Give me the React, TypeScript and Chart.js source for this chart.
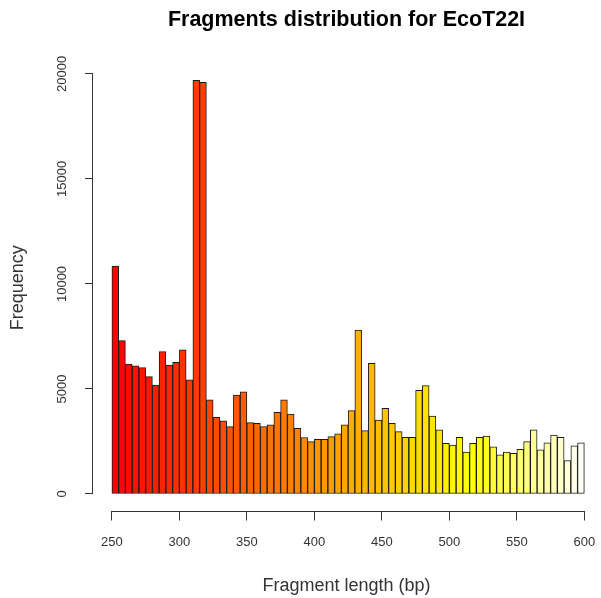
import React, { useEffect, useRef } from 'react';
import { Chart, registerables } from 'chart.js';

Chart.register(...registerables);

const FONT = "'Liberation Sans', Arial, Helvetica, sans-serif";

// Histogram bins (left edge, bp), width 5
const binStarts = [
  250, 255, 260, 265, 270, 275, 280, 285, 290, 295,
  300, 305, 310, 315, 320, 325, 330, 335, 340, 345,
  350, 355, 360, 365, 370, 375, 380, 385, 390, 395,
  400, 405, 410, 415, 420, 425, 430, 435, 440, 445,
  450, 455, 460, 465, 470, 475, 480, 485, 490, 495,
  500, 505, 510, 515, 520, 525, 530, 535, 540, 545,
  550, 555, 560, 565, 570, 575, 580, 585, 590, 595,
];
const binWidth = 5;

const frequencies = [
  10850, 7300, 6180, 6100, 6020, 5590, 5190, 6780, 6140, 6270,
  6860, 5430, 19700, 19600, 4480, 3650, 3480, 3210, 4710, 4870,
  3400, 3370, 3210, 3290, 3890, 4480, 3810, 3130, 2690, 2490,
  2600, 2600, 2730, 2860, 3290, 3970, 7810, 3020, 6220, 3520,
  4080, 3370, 2970, 2700, 2700, 4930, 5160, 3710, 3050, 2410,
  2330, 2700, 1990, 2410, 2700, 2760, 2250, 1860, 2000, 1940,
  2130, 2490, 3050, 2100, 2440, 2810, 2700, 1590, 2290, 2440,
];

const xTicks = [250, 300, 350, 400, 450, 500, 550, 600];
const yTicks = [0, 5000, 10000, 15000, 20000];

const titleText = 'Fragments distribution for EcoT22I';
const xTitle = 'Fragment length (bp)';
const yTitle = 'Frequency';

// R's heat.colors(n)
function heatColors(n: number): string[] {
  const j = Math.floor(n / 4);
  const i = n - j;
  const out: string[] = [];
  for (let k = 0; k < i; k++) {
    const g = i > 1 ? k / (i - 1) : 0;
    out.push(`rgb(255,${Math.round(255 * g)},0)`);
  }
  const s0 = 1 - 1 / (2 * j);
  const s1 = 1 / (2 * j);
  for (let k = 0; k < j; k++) {
    const s = j > 1 ? s0 + ((s1 - s0) * k) / (j - 1) : s0;
    out.push(`rgb(255,255,${Math.round(255 * (1 - s))})`);
  }
  return out;
}

const rAxesPlugin = {
  id: 'rAxes',
  afterDraw(chart: any) {
    const { ctx, chartArea, scales } = chart;
    const x = scales.x;
    const y = scales.y;
    ctx.save();
    ctx.strokeStyle = '#333';
    ctx.lineWidth = 1;
    const yb = Math.round(chartArea.bottom) + 0.5;
    ctx.beginPath();
    ctx.moveTo(x.getPixelForValue(xTicks[0]), yb);
    ctx.lineTo(x.getPixelForValue(xTicks[xTicks.length - 1]), yb);
    ctx.stroke();
    const xl = Math.round(chartArea.left) - 0.5;
    ctx.beginPath();
    ctx.moveTo(xl, y.getPixelForValue(yTicks[0]));
    ctx.lineTo(xl, y.getPixelForValue(yTicks[yTicks.length - 1]));
    ctx.stroke();
    ctx.fillStyle = '#333';
    ctx.font = `13px ${FONT}`;
    ctx.textAlign = 'center';
    ctx.textBaseline = 'middle';
    y.ticks.forEach((t: any) => {
      const py = y.getPixelForValue(t.value);
      ctx.save();
      ctx.translate(chartArea.left - 31, py);
      ctx.rotate(-Math.PI / 2);
      ctx.fillText(String(t.value), 0, 0);
      ctx.restore();
    });
    ctx.restore();
  },
};

export default function App() {
  const ref = useRef<HTMLCanvasElement>(null);
  useEffect(() => {
    document.body.style.margin = '0';
    const colors = heatColors(binStarts.length);
    const chart = new Chart(ref.current as HTMLCanvasElement, {
      type: 'bar',
      data: {
        datasets: [
          {
            data: binStarts.map((b, i) => ({ x: b + binWidth / 2, y: frequencies[i] })),
            backgroundColor: colors,
            borderColor: '#1a1a1a',
            borderWidth: 1,
            borderSkipped: false,
            barPercentage: 1,
            categoryPercentage: 1,
          } as any,
        ],
      },
      options: {
        animation: false,
        responsive: false,
        devicePixelRatio: 1,
        layout: { padding: { left: 0, right: 1, top: 0, bottom: 0 } },
        plugins: {
          legend: { display: false },
          tooltip: { enabled: false },
          title: {
            display: true,
            text: titleText,
            fullSize: false,
            color: '#000',
            font: { family: FONT, size: 21.5, weight: 'bold' },
            padding: { top: 7, bottom: 32 },
          },
        },
        scales: {
          x: {
            type: 'linear',
            min: 236,
            max: 611.6,
            offset: false,
            afterBuildTicks: (s: any) => {
              s.ticks = xTicks.map((v) => ({ value: v }));
            },
            afterFit: (s: any) => {
              s.height = 87.5;
              s.paddingLeft = 0;
              s.paddingRight = 0;
            },
            grid: {
              display: true,
              drawOnChartArea: false,
              drawTicks: true,
              tickLength: 10,
              color: '#333',
              offset: false,
            },
            border: { display: false },
            ticks: {
              padding: 14,
              color: '#333',
              font: { family: FONT, size: 13 },
              maxRotation: 0,
              autoSkip: false,
            },
            title: {
              display: true,
              text: xTitle,
              color: '#333',
              font: { family: FONT, size: 18 },
              padding: { top: 0, bottom: 1.5 },
            },
          },
          y: {
            type: 'linear',
            min: -786,
            max: 20436,
            afterBuildTicks: (s: any) => {
              s.ticks = yTicks.map((v) => ({ value: v }));
            },
            afterFit: (s: any) => {
              s.width = 93;
              s.paddingTop = 0;
              s.paddingBottom = 0;
            },
            grid: {
              display: true,
              drawOnChartArea: false,
              drawTicks: true,
              tickLength: 8,
              color: '#333',
            },
            border: { display: false },
            ticks: { display: false },
            title: {
              display: true,
              text: yTitle,
              color: '#333',
              font: { family: FONT, size: 18 },
              padding: { top: 7.5, bottom: 0 },
            },
          },
        },
      } as any,
      plugins: [rAxesPlugin],
    });
    return () => chart.destroy();
  }, []);
  return (
    <div style={{ width: 601, height: 598 }}>
      <canvas ref={ref} width={601} height={598} style={{ display: 'block', width: 601, height: 598 }} />
    </div>
  );
}
